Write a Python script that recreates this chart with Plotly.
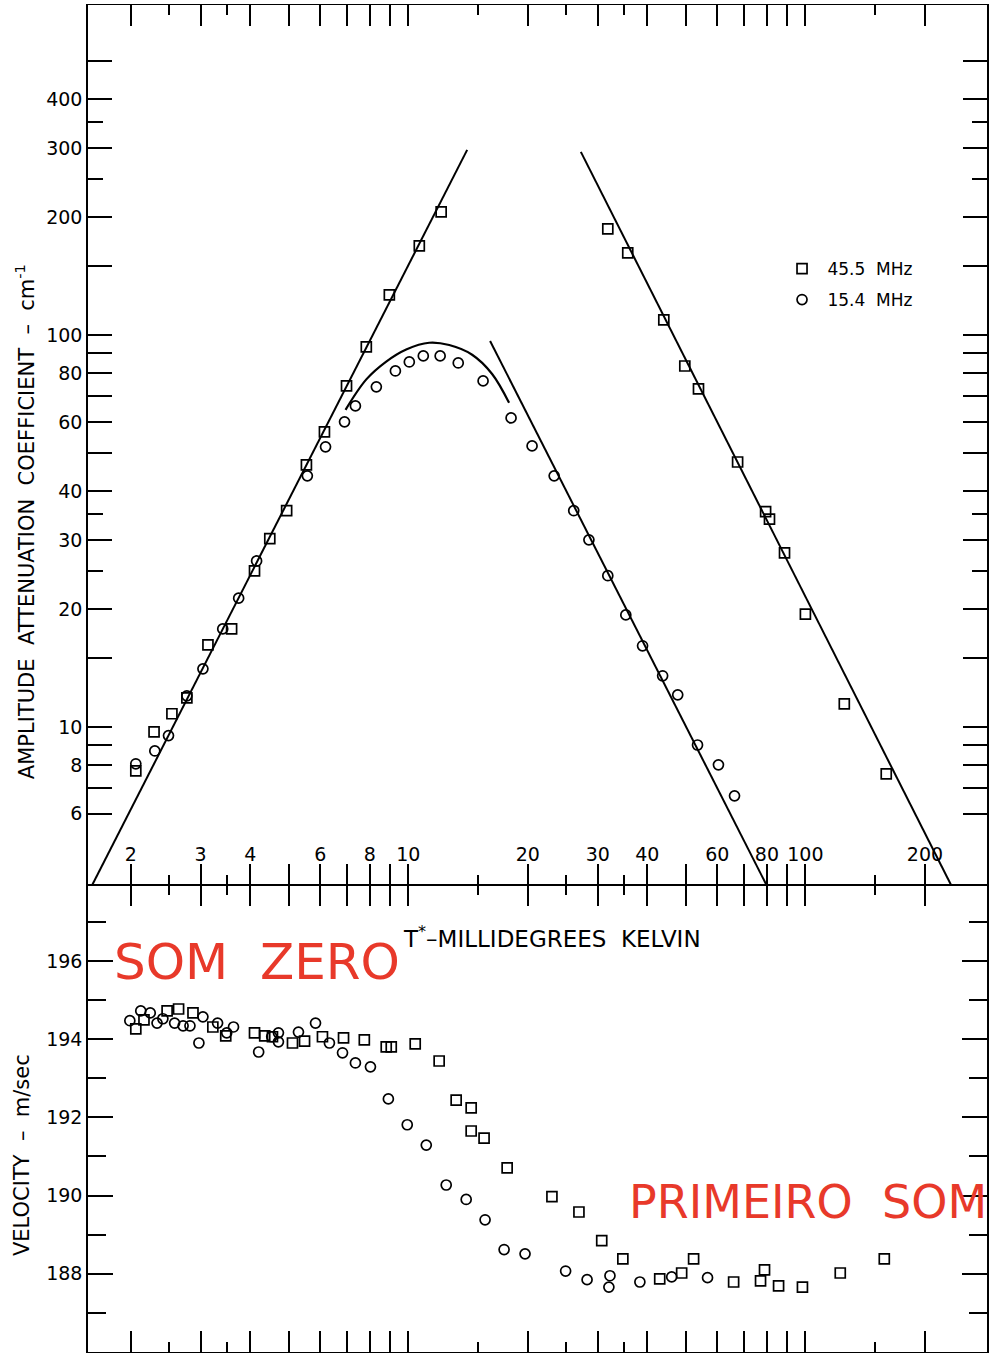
import plotly.graph_objects as go

# ---------------- data ----------------
# Attenuation, 45.5 MHz (squares)
att455_T = [2.06, 2.29, 2.54, 2.77, 3.13, 3.59, 4.10, 4.48, 4.94, 5.54, 6.15, 6.99, 7.84, 8.96,
            10.66, 12.10, 31.8, 35.7, 44.0, 49.7, 53.8, 67.5, 79.4, 81.2, 88.6, 100.0, 125.3, 159.8]
att455_A = [7.72, 9.71, 10.80, 11.86, 16.19, 17.78, 25.0, 30.2, 35.6, 46.6, 56.6, 74.1, 93.2, 126.5,
            168.7, 206.0, 186.4, 161.9, 109.2, 83.3, 72.8, 47.4, 35.4, 33.9, 27.8, 19.4, 11.45, 7.59]
# Attenuation, 15.4 MHz (circles)
att154_T = [2.06, 2.30, 2.49, 2.77, 3.04, 3.41, 3.74, 4.15, 5.57, 6.19, 6.91, 7.36, 8.31, 9.28,
            10.06, 10.91, 12.03, 13.36, 15.43, 18.15, 20.5, 23.3, 26.1, 28.5, 31.8, 35.3, 38.9,
            43.7, 47.7, 53.5, 60.4, 66.3]
att154_A = [8.05, 8.68, 9.50, 12.0, 14.06, 17.78, 21.3, 26.5, 43.7, 51.8, 60.0, 65.9, 73.7, 80.9,
            85.3, 88.4, 88.4, 84.8, 76.3, 61.4, 52.1, 43.7, 35.6, 30.0, 24.3, 19.3, 16.1,
            13.5, 12.07, 8.99, 8.00, 6.67]
# drawn lines
rise_T, rise_A = [1.60, 14.07], [3.95, 296.5]
fall154_T, fall154_A = [16.07, 79.8], [96.5, 3.95]
fall455_T, fall455_A = [27.2, 232.7], [293.0, 3.95]
curve_T = [6.95, 7.84, 8.80, 9.88, 11.29, 12.68, 14.48, 16.26, 17.94]
curve_A = [64.4, 77.0, 85.5, 91.8, 95.5, 94.2, 89.0, 79.5, 67.1]

# Velocity, 45.5 MHz (squares)
vel455_T = [2.06, 2.16, 2.47, 2.64, 2.87, 3.22, 3.47, 4.10, 4.35, 4.55, 5.11, 5.48, 6.08, 6.87,
            7.75, 8.80, 9.06, 10.41, 11.96, 13.20, 14.40, 14.40, 15.52, 17.74, 23.0, 26.9, 30.7,
            34.7, 42.97, 48.8, 52.3, 65.96, 77.1, 78.9, 85.6, 98.3, 122.4, 158.0]
vel455_V = [194.26, 194.49, 194.72, 194.77, 194.67, 194.31, 194.08, 194.16, 194.08, 194.06, 193.90,
            193.95, 194.06, 194.03, 193.98, 193.80, 193.80, 193.88, 193.44, 192.44, 192.24, 191.65,
            191.47, 190.71, 189.97, 189.58, 188.85, 188.38, 187.87, 188.02, 188.38, 187.79, 187.82,
            188.10, 187.69, 187.66, 188.02, 188.38]
# Velocity, 15.4 MHz (circles)
vel154_T = [1.99, 2.12, 2.24, 2.33, 2.41, 2.58, 2.71, 2.82, 2.97, 3.04, 3.31, 3.49, 3.63, 4.20,
            4.53, 4.71, 4.71, 5.29, 5.84, 6.33, 6.83, 7.36, 8.03, 8.91, 9.94, 11.10, 12.46, 13.99,
            15.61, 17.43, 19.68, 24.9, 28.2, 32.2, 32.0, 38.3, 46.06, 56.7]
vel154_V = [194.47, 194.72, 194.67, 194.41, 194.52, 194.41, 194.34, 194.34, 193.90, 194.57, 194.41,
            194.16, 194.31, 193.67, 194.06, 194.16, 193.93, 194.18, 194.41, 193.90, 193.65, 193.39,
            193.29, 192.47, 191.81, 191.29, 190.27, 189.90, 189.38, 188.62, 188.51, 188.07, 187.85,
            187.95, 187.66, 187.79, 187.92, 187.90]

# ticks
x_major = [2, 3, 4, 5, 6, 7, 8, 9, 10, 20, 30, 40, 50, 60, 70, 80, 90, 100, 200]
x_labels = ["2", "3", "4", "", "6", "", "8", "", "10", "20", "30", "40", "", "60", "", "80", "",
            "100", "200"]
x_minor = [2.5, 3.5, 15, 25, 35, 150]
ya_major = [6, 7, 8, 9, 10, 15, 20, 30, 40, 50, 60, 70, 80, 90, 100, 150, 200, 300, 400, 500]
ya_labels = ["6", "", "8", "", "10", "", "20", "30", "40", "", "60", "", "80", "", "100", "", "200",
             "300", "400", ""]
ya_minor = [25, 35, 250, 350]
yv_major = [186, 188, 190, 192, 194, 196]
yv_labels = ["186", "188", "190", "192", "194", "196"]

FONT = "DejaVu Sans"
INK = "black"

fig = go.Figure()

line_style = dict(color=INK, width=2)
for tx, ay in [(rise_T, rise_A), (fall154_T, fall154_A), (fall455_T, fall455_A)]:
    fig.add_trace(go.Scatter(x=tx, y=ay, mode="lines", line=line_style, showlegend=False,
                             xaxis="x", yaxis="y", hoverinfo="skip"))
fig.add_trace(go.Scatter(x=curve_T, y=curve_A, mode="lines",
                         line=dict(color=INK, width=2.2, shape="spline"), showlegend=False,
                         xaxis="x", yaxis="y", hoverinfo="skip"))

sq = dict(symbol="square-open", size=10, color=INK, line=dict(width=1.7, color=INK))
ci = dict(symbol="circle-open", size=10, color=INK, line=dict(width=1.7, color=INK))

fig.add_trace(go.Scatter(x=att455_T, y=att455_A, mode="markers", marker=sq,
                         name="\u00a045.5\u00a0\u00a0MHz",
                         xaxis="x", yaxis="y", legend="legend"))
fig.add_trace(go.Scatter(x=att154_T, y=att154_A, mode="markers", marker=ci,
                         name="\u00a015.4\u00a0\u00a0MHz",
                         xaxis="x", yaxis="y", legend="legend2"))
fig.add_trace(go.Scatter(x=vel455_T, y=vel455_V, mode="markers", marker=sq, showlegend=False,
                         xaxis="x2", yaxis="y2"))
fig.add_trace(go.Scatter(x=vel154_T, y=vel154_V, mode="markers", marker=ci, showlegend=False,
                         xaxis="x2", yaxis="y2"))

split = 467 / 1347
xrange = [0.1935, 2.4573]
tickfont = dict(family=FONT, size=19, color=INK)

common_x = dict(type="log", range=xrange, showgrid=False, zeroline=False, showline=True,
                linecolor=INK, linewidth=1.2, ticks="inside", ticklen=21, tickwidth=1.5,
                tickcolor=INK, tickmode="array", tickvals=x_major, mirror="ticks",
                minor=dict(tickmode="array", tickvals=x_minor, ticks="inside", ticklen=10,
                           tickwidth=1.5, tickcolor=INK, showgrid=False))

fig.update_layout(
    width=989, height=1359,
    margin=dict(l=88, r=0, t=5, b=7),
    paper_bgcolor="white", plot_bgcolor="white",
    font=dict(family=FONT, color=INK),
    xaxis=dict(**common_x, anchor="y", domain=[0, 1], ticktext=x_labels,
               ticklabelposition="inside", tickfont=tickfont),
    xaxis2=dict(**common_x, anchor="y2", domain=[0, 1], matches="x", showticklabels=False),
    yaxis=dict(type="log", domain=[split, 1], range=[0.5966, 2.8416], anchor="x",
               showgrid=False, zeroline=False, showline=True, linecolor=INK, linewidth=1.5,
               ticks="inside", ticklen=24, tickwidth=1.5, tickcolor=INK, mirror="ticks",
               tickmode="array", tickvals=ya_major, ticktext=ya_labels, tickfont=tickfont,
               minor=dict(tickmode="array", tickvals=ya_minor, ticks="inside", ticklen=15,
                          tickwidth=1.5, tickcolor=INK, showgrid=False)),
    yaxis2=dict(domain=[0, split], range=[186, 197.94], anchor="x2",
                showgrid=False, zeroline=False, showline=True, linecolor=INK, linewidth=1.5,
                ticks="inside", ticklen=25, tickwidth=1.5, tickcolor=INK, mirror="ticks",
                tickmode="array", tickvals=yv_major, ticktext=yv_labels, tickfont=tickfont,
                minor=dict(dtick=1, ticks="inside", ticklen=18, tickwidth=1.5, tickcolor=INK,
                           showgrid=False)),
    legend=dict(x=0.772, y=0.804, xanchor="left", yanchor="middle", bgcolor="rgba(0,0,0,0)",
                font=dict(family=FONT, size=17, color=INK), itemwidth=30),
    legend2=dict(x=0.772, y=0.781, xanchor="left", yanchor="middle", bgcolor="rgba(0,0,0,0)",
                 font=dict(family=FONT, size=17, color=INK), itemwidth=30),
)

red = "#E8392A"
ann = dict(xref="paper", yref="paper", showarrow=False, xanchor="center", yanchor="middle")
fig.add_annotation(text="AMPLITUDE  ATTENUATION  COEFFICIENT  –  cm<sup>-1</sup>",
                   x=-0.0699, y=0.6162, textangle=-90,
                   font=dict(family=FONT, size=21, color=INK), **ann)
fig.add_annotation(text="VELOCITY  –  m/sec", x=-0.0733, y=0.1463, textangle=-90,
                   font=dict(family=FONT, size=21, color=INK), **ann)
fig.add_annotation(text="T<sup>*</sup>–MILLIDEGREES  KELVIN", x=0.516, y=0.3081,
                   font=dict(family=FONT, size=23, color=INK), **ann)
fig.add_annotation(text="SOM  ZERO", x=0.1876, y=0.2895,
                   font=dict(family=FONT, size=50, color=red), **ann)
fig.add_annotation(text="PRIMEIRO  SOM", x=0.801, y=0.1114,
                   font=dict(family=FONT, size=46, color=red), **ann)

fig.write_html("out.html", config={"displayModeBar": False},
               post_script="document.body.style.margin='0px';")
